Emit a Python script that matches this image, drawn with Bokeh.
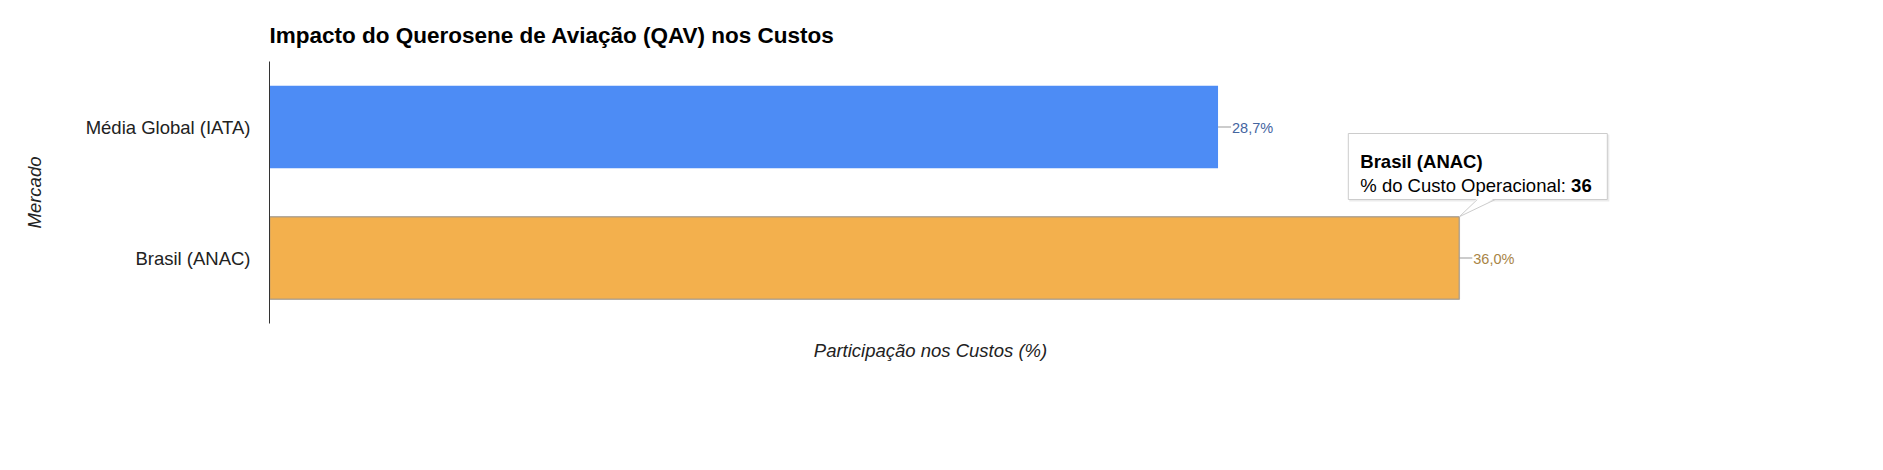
from bokeh.plotting import figure
from bokeh.models import ColumnDataSource, Range1d, FactorRange, Title
from bokeh.embed import file_html
from bokeh.resources import INLINE
from bokeh.core.properties import value

# ---------------- data ----------------
mercados = ["Média Global (IATA)", "Brasil (ANAC)"]
participacao = [28.7, 36.0]
rotulos = [f"{v:.1f}".replace(".", ",") + "%" for v in participacao]
titulo = "Impacto do Querosene de Aviação (QAV) nos Custos"
eixo_x = "Participação nos Custos (%)"
eixo_y = "Mercado"
serie = "% do Custo Operacional"
tooltip_idx = 1  # hovered bar: Brasil (ANAC)
axis_max = 40

# ---------------- styles ----------------
bar_colors = ["#4d8cf5", "#f3b04d"]
label_colors = ["#44659f", "#a88446"]
FONT = "Liberation Sans"

W, H = 1860, 440
FRAME_L, FRAME_T = 269, 61
FRAME_W, FRAME_H = 1431, 262
CHART_W = 1322
X_END = axis_max * FRAME_W / CHART_W
PX = FRAME_W / X_END
BAND = FRAME_H / len(mercados)
BAR_H = 0.63

p = figure(width=W, height=H, output_backend="svg", toolbar_location=None,
           x_range=Range1d(0, X_END), y_range=FactorRange(factors=mercados[::-1]),
           min_border_left=FRAME_L, min_border_top=FRAME_T,
           min_border_right=W - FRAME_L - FRAME_W,
           min_border_bottom=H - FRAME_T - FRAME_H)
p.outline_line_color = None
p.grid.visible = False
p.background_fill_color = "white"

p.title.text = titulo
p.title.text_font = FONT
p.title.text_font_size = "22.5px"
p.title.text_font_style = "bold"
p.title.text_color = "#000000"
p.title.align = "left"
p.title.standoff = 27

# y axis
ya = p.yaxis[0]
ya.major_label_text_font = FONT
ya.major_label_text_font_size = "18.5px"
ya.major_label_text_color = "#222222"
ya.major_tick_line_color = None
ya.major_tick_out = 0
ya.major_tick_in = 0
ya.minor_tick_line_color = None
ya.axis_line_color = "#333333"
ya.major_label_standoff = 19
ya.axis_label = eixo_y
ya.axis_label_text_font = FONT
ya.axis_label_text_font_size = "18.5px"
ya.axis_label_text_font_style = "italic"
ya.axis_label_text_color = "#222222"
ya.axis_label_standoff = 38

p.xaxis.visible = False
xt_w = 12.615 * 18.5
p.add_layout(Title(text=eixo_x, text_font=FONT, text_font_size="18.5px",
                   text_font_style="italic", text_color="#222222", align="left",
                   offset=CHART_W / 2 - xt_w / 2, standoff=28), "below")

src = ColumnDataSource(dict(y=mercados, v=participacao, lab=rotulos,
                            c=bar_colors, lc=label_colors,
                            x1=[v + 13 / PX for v in participacao]))

p.hbar(y="y", left=0, right="v", height=BAR_H, color="c", source=src, line_color=None)

# hovered bar highlight outline
hv = participacao[tooltip_idx]
hy = mercados[tooltip_idx]
p.hbar(y=[hy], left=[0], right=[hv], height=BAR_H, fill_color=None,
       line_color="#a09a90", line_width=1.5, line_alpha=0.8)

# annotation stems and labels
p.segment(x0="v", y0="y", x1="x1", y1="y", line_color="#999999", line_width=1, source=src)
p.text(x="v", y="y", text="lab", source=src, x_offset=14, y_offset=1,
       text_font=value(FONT), text_font_size="14.5px", text_color="lc",
       text_baseline="middle", text_align="left")

# ---------------- tooltip ----------------
def dx(px):
    return hv + px / PX

def cy(px_up):
    return (hy, px_up / BAND)

box_l, box_r, box_t, box_b = -111, 148, 124.5, 58.5
# shadow
p.quad(left=[dx(box_l + 1)], right=[dx(box_r + 2)], top=[cy(box_t - 1)], bottom=[cy(box_b - 2)],
       fill_color="#000000", fill_alpha=0.08, line_color=None)
p.quad(left=[dx(box_l)], right=[dx(box_r)], top=[cy(box_t)], bottom=[cy(box_b)],
       fill_color="white", line_color="#cccccc", line_width=1)
tip = (dx(0), (hy, BAR_H / 2))
b1 = (dx(18), cy(box_b))
b2 = (dx(36), cy(box_b))
p.patch(x=[tip[0], dx(18), dx(36)], y=[tip[1], cy(box_b + 1.5), cy(box_b + 1.5)],
        fill_color="white", line_color=None)
p.segment(x0=[tip[0], tip[0]], y0=[tip[1], tip[1]], x1=[b1[0], b2[0]], y1=[b1[1], b2[1]],
          line_color="#cccccc", line_width=1)

p.text(x=[hv], y=[hy], text=[hy], x_offset=-99, y_offset=-96.5,
       text_font=value(FONT), text_font_size="18.5px", text_font_style="bold",
       text_color="#000000", text_baseline="alphabetic", text_align="left")
p.text(x=[hv], y=[hy], text=[serie + ": "], x_offset=-99, y_offset=-72.5,
       text_font=value(FONT), text_font_size="18.5px",
       text_color="#000000", text_baseline="alphabetic", text_align="left")
p.text(x=[hv], y=[hy], text=[f"{hv:g}"], x_offset=-99 + 11.394 * 18.5, y_offset=-72.5,
       text_font=value(FONT), text_font_size="18.5px", text_font_style="bold",
       text_color="#000000", text_baseline="alphabetic", text_align="left")

open("out.html", "w").write(file_html(p, INLINE))
